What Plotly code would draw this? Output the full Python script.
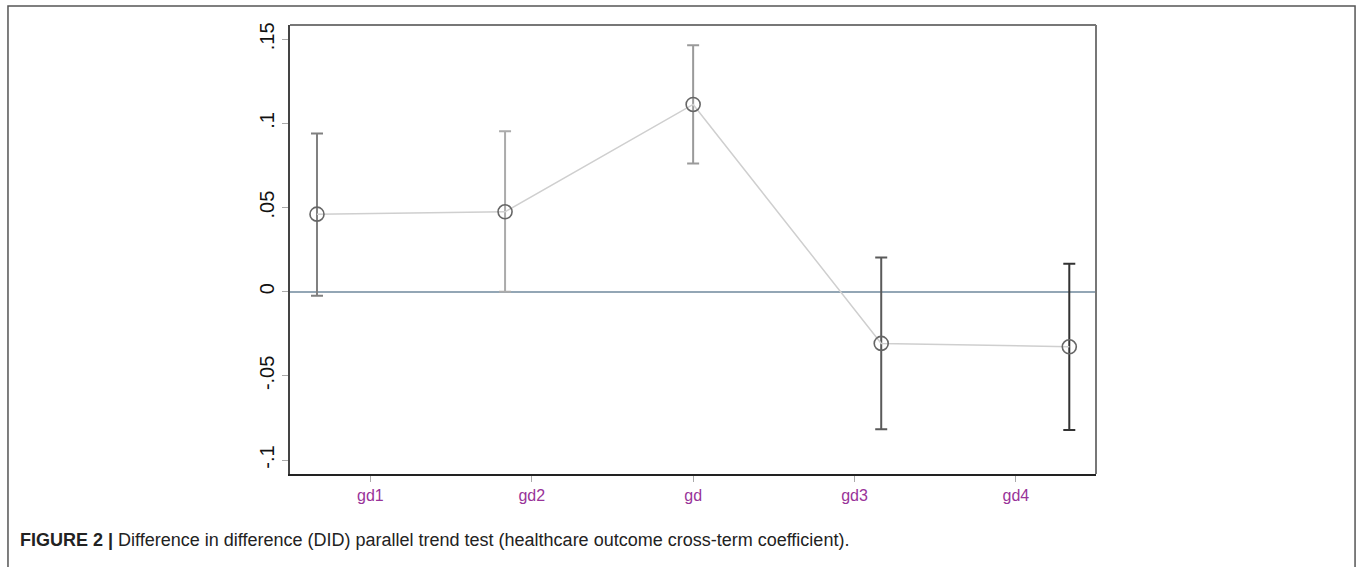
import plotly.graph_objects as go

# Data
categories = ["gd1", "gd2", "gd", "gd3", "gd4"]
coef = [0.0461, 0.0475, 0.1113, -0.0307, -0.0327]
ci_low = [-0.0024, 0.0000, 0.0762, -0.0817, -0.0821]
ci_high = [0.0940, 0.0954, 0.1465, 0.0203, 0.0167]
point_x = [1, 2, 3, 4, 5]
tick_x = [1.284, 2.142, 3.0, 3.858, 4.716]
y_tickvals = [-0.1, -0.05, 0, 0.05, 0.1, 0.15]
y_ticktext = ["-.1", "-.05", "0", ".05", ".1", ".15"]
bar_colors = ["#808080", "#ababab", "#9a9a9a", "#5a5a5a", "#333333"]

fig = go.Figure()

# Error bars, one trace per estimate (different shades)
for i in range(len(categories)):
    fig.add_trace(go.Scatter(
        x=[point_x[i]], y=[coef[i]], mode="markers",
        marker=dict(size=1, color="rgba(0,0,0,0)"),
        error_y=dict(type="data", symmetric=False,
                     array=[ci_high[i] - coef[i]],
                     arrayminus=[coef[i] - ci_low[i]],
                     color=bar_colors[i], thickness=2, width=6),
        showlegend=False, hoverinfo="skip"))

# Connecting line
fig.add_trace(go.Scatter(
    x=point_x, y=coef, mode="lines",
    line=dict(color="#cfcfcf", width=1.5),
    showlegend=False))

# Markers
fig.add_trace(go.Scatter(
    x=point_x, y=coef, mode="markers",
    marker=dict(symbol="circle", size=14, color="rgba(255,255,255,0)",
                line=dict(color="#666666", width=1.6)),
    showlegend=False))

fig.update_layout(
    width=1357, height=567,
    margin=dict(l=290, r=261, t=25, b=93),
    paper_bgcolor="white", plot_bgcolor="white",
    font=dict(family="Liberation Sans, Arial, sans-serif", color="#111111"),
    showlegend=False,
)

fig.update_xaxes(
    range=[0.8565, 5.142],
    tickmode="array", tickvals=tick_x, ticktext=categories,
    tickfont=dict(size=16, color="#993399"),
    ticks="outside", ticklen=6, tickcolor="#aaaaaa", tickwidth=1,
    showline=True, linecolor="#222222", linewidth=2,
    showgrid=False, zeroline=False,
)
fig.update_yaxes(
    range=[-0.1083, 0.1585],
    tickmode="array", tickvals=y_tickvals, ticktext=y_ticktext,
    tickangle=-90,
    tickfont=dict(size=20, color="#111111"),
    ticks="outside", ticklen=6, tickcolor="#aaaaaa", tickwidth=1,
    showline=True, linecolor="#444444", linewidth=2,
    showgrid=False,
    zeroline=True, zerolinecolor="#93a6b5", zerolinewidth=2,
)

# top and right plot borders (gray)
fig.add_shape(type="line", xref="paper", yref="paper", x0=0, x1=1, y0=1, y1=1,
              line=dict(color="#777777", width=2))
fig.add_shape(type="line", xref="paper", yref="paper", x0=1, x1=1, y0=0, y1=1,
              line=dict(color="#777777", width=2))

# outer figure frame
fig.add_shape(type="rect", xref="paper", yref="paper",
              x0=-0.3499, x1=1.3214, y0=-0.26, y1=1.0423,
              line=dict(color="#555555", width=1.5), layer="below")

# caption
fig.add_annotation(
    xref="paper", yref="paper", x=-0.3375, y=-0.147,
    xanchor="left", yanchor="middle", showarrow=False,
    text="<b>FIGURE 2 |</b> Difference in difference (DID) parallel trend test (healthcare outcome cross-term coefficient).",
    font=dict(size=18, color="#222222", family="Liberation Sans, Arial, sans-serif"),
)

fig.write_html("out.html", config={"displayModeBar": False},
               post_script="document.body.style.margin='0';document.body.style.overflow='hidden';")
